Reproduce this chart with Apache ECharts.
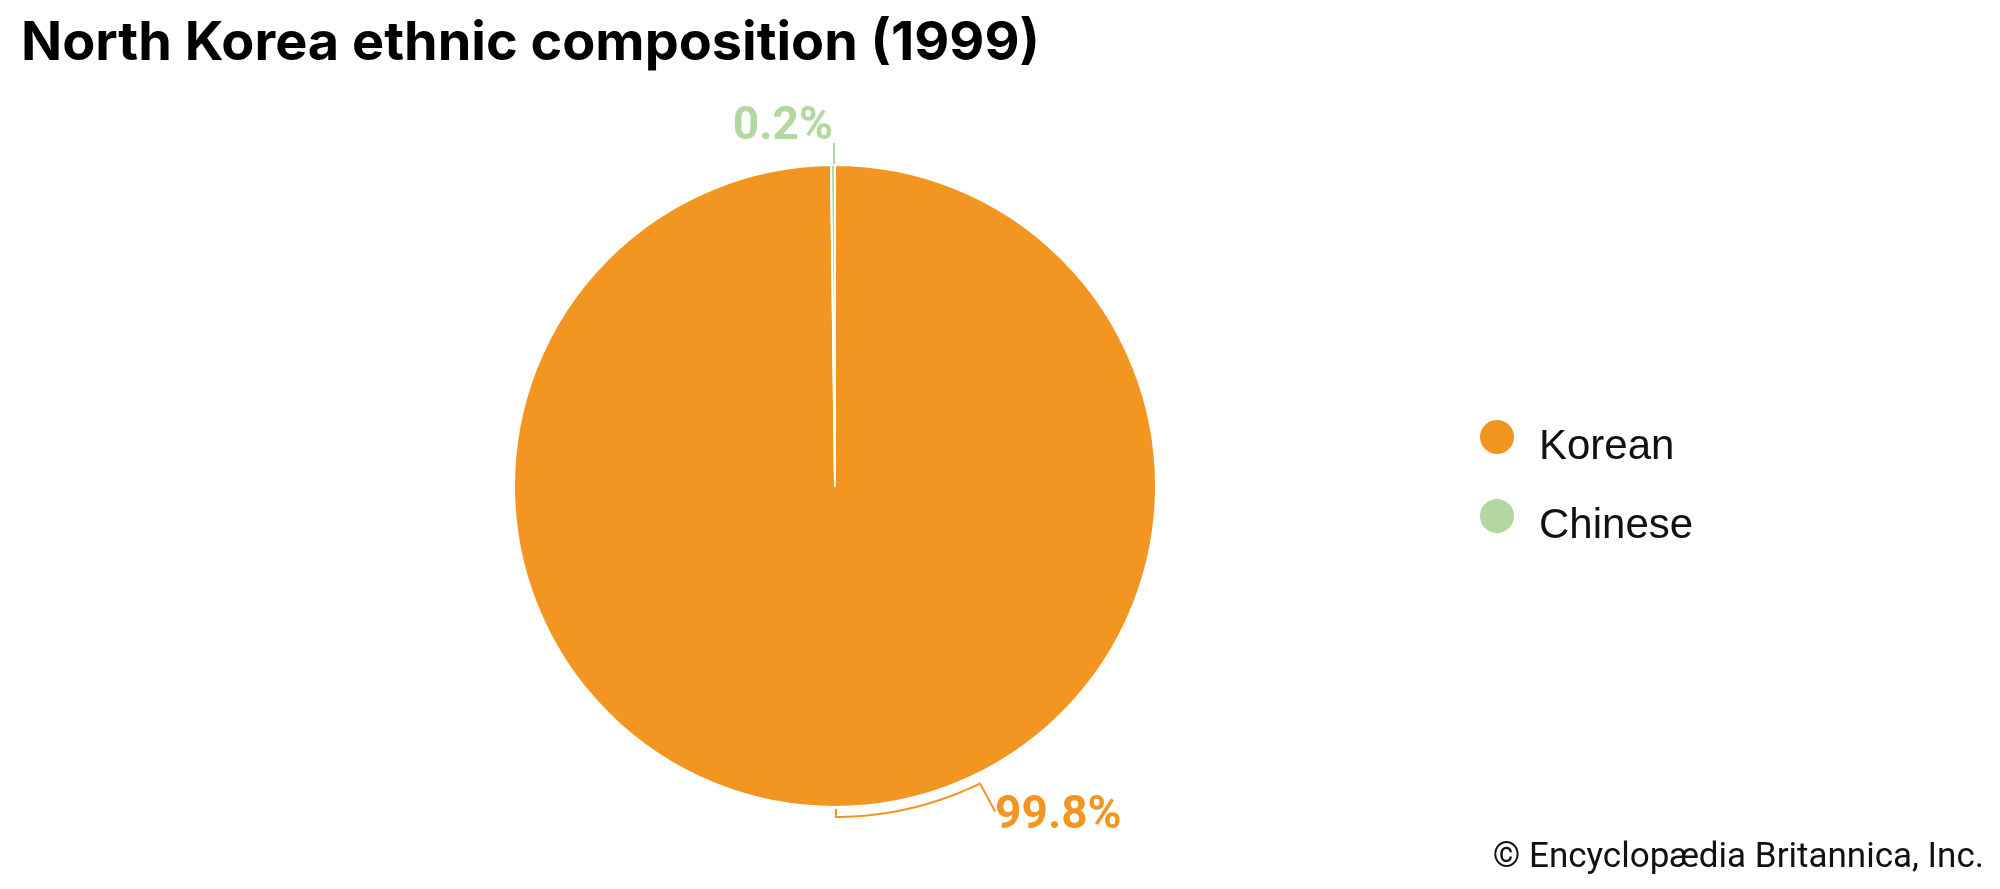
<!DOCTYPE html>
<html>
<head>
<meta charset="utf-8">
<script src="https://cdn.jsdelivr.net/npm/echarts@6/dist/echarts.min.js"></script>
<style>html,body{margin:0;padding:0;background:#fff;}#chart{width:2000px;height:889px;}</style>
</head>
<body>
<div id="chart"></div>
<script>
const categories = ['Korean', 'Chinese'];
const values = [99.8, 0.2];
const labels = ['99.8%', '0.2%'];
const colors = ['#F39521', '#B2D8A0'];
const titleText = 'North Korea ethnic composition (1999)';
const creditText = '\u00A9 Encyclop\u00E6dia Britannica, Inc.';

const CX = 835, CY = 486, R = 321;
const chart = echarts.init(document.getElementById('chart'), null, {renderer: 'canvas'});
const rad = Math.PI / 180;

chart.setOption({
  backgroundColor: '#ffffff',
  animation: false,
  title: [{
    text: titleText,
    left: 16, top: 12,
    textStyle: {fontFamily: 'Inter', fontWeight: 'bold', fontSize: 54, color: '#000'}
  }, {
    text: creditText,
    right: 11, bottom: 8,
    textStyle: {fontFamily: 'Roboto', fontWeight: 'normal', fontSize: 35, color: '#111'}
  }],
  legend: {
    orient: 'vertical',
    left: 1473, top: 413,
    icon: 'circle',
    itemWidth: 36, itemHeight: 36, itemGap: 29,
    data: categories,
    formatter: '{t|{name}}',
    textStyle: {
      fontFamily: 'Liberation Sans', fontSize: 42, color: '#111',
      rich: {t: {fontFamily: 'Liberation Sans', fontSize: 42, color: '#111', padding: [20, 0, 0, 19]}}
    }
  },
  series: [{
    type: 'pie',
    center: [CX, CY],
    radius: [0, R],
    startAngle: 90,
    clockwise: true,
    avoidLabelOverlap: false,
    itemStyle: {borderColor: '#fff', borderWidth: 2},
    label: {
      show: true, position: 'outside',
      fontFamily: 'Roboto', fontWeight: 'bold', fontSize: 46,
      formatter: p => labels[p.dataIndex],
      color: 'inherit'
    },
    labelLine: {show: true, length: 10, length2: 10, lineStyle: {width: 2}},
    labelLayout: function (p) {
      if (p.dataIndex === 0) {
        const pts = [[CX + 1, CY + R + 2], [CX + 1, CY + R + 10]];
        const r2 = R + 10;
        for (let a = 90; a >= 63.5; a -= 1) {
          pts.push([CX + r2 * Math.cos(a * rad), CY + r2 * Math.sin(a * rad)]);
        }
        const end = pts[pts.length - 1];
        pts.push([end[0] + 15, end[1] + 28]);
        return {x: end[0] + 15, y: end[1] + 33, align: 'left', verticalAlign: 'middle', labelLinePoints: pts};
      } else {
        const top = CY - R;
        return {x: CX - 2, y: top - 38, align: 'right', verticalAlign: 'middle',
          labelLinePoints: [[CX - 1, top - 1], [CX - 1, top - 22]]};
      }
    },
    data: categories.map((c, i) => ({name: c, value: values[i], itemStyle: {color: colors[i]}}))
  }]
});
</script>
</body>
</html>
